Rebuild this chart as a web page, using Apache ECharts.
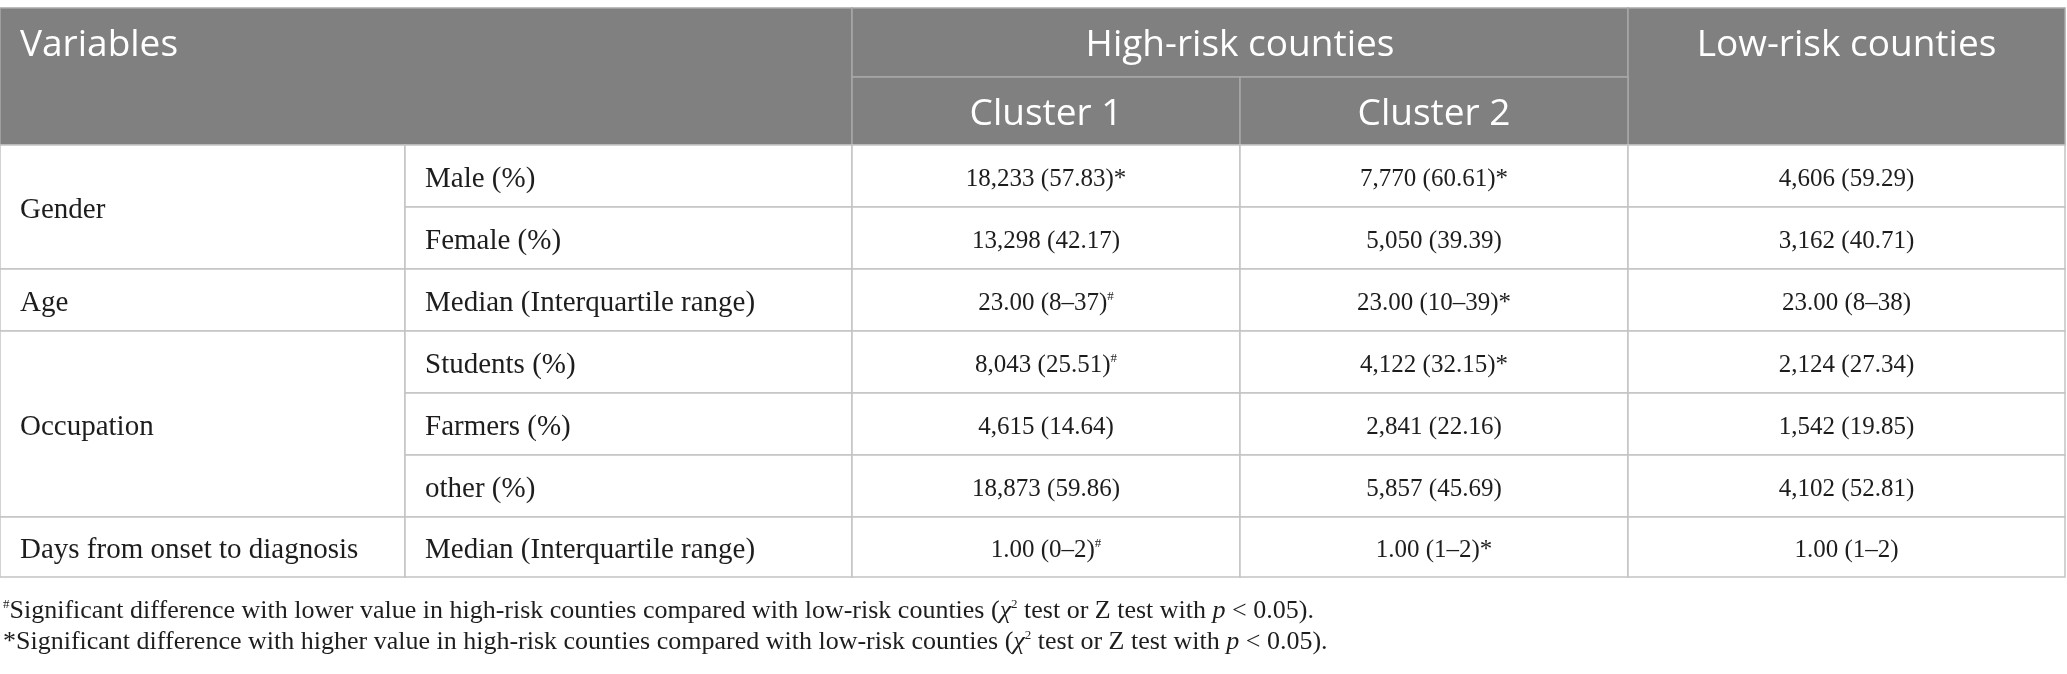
<!DOCTYPE html>
<html>
<head>
<meta charset="UTF-8">
<title>High-risk and low-risk counties</title>
<script src="https://cdn.jsdelivr.net/npm/echarts@6/dist/echarts.min.js"></script>
<style>
html,body{margin:0;padding:0;background:#fff;}
#main{width:2067px;height:674px;}
</style>
</head>
<body>
<div id="main"></div>
<script type="text/javascript">
	// 表格内容
	var headTop = ['Variables', 'High-risk counties', 'Low-risk counties'];
	var headSub = ['Cluster 1', 'Cluster 2'];
	var groups = ['Gender', 'Age', 'Occupation', 'Days from onset to diagnosis'];
	var groupRows = [2, 1, 3, 1];
	var items = ['Male (%)', 'Female (%)', 'Median (Interquartile range)', 'Students (%)', 'Farmers (%)', 'other (%)', 'Median (Interquartile range)'];
	var cluster1 = ['18,233 (57.83)', '13,298 (42.17)', '23.00 (8–37)', '8,043 (25.51)', '4,615 (14.64)', '18,873 (59.86)', '1.00 (0–2)'];
	var cluster1Sig = ['*', '', '#', '#', '', '', '#'];
	var cluster2 = ['7,770 (60.61)', '5,050 (39.39)', '23.00 (10–39)', '4,122 (32.15)', '2,841 (22.16)', '5,857 (45.69)', '1.00 (1–2)'];
	var cluster2Sig = ['*', '', '*', '*', '', '', '*'];
	var lowRisk = ['4,606 (59.29)', '3,162 (40.71)', '23.00 (8–38)', '2,124 (27.34)', '1,542 (19.85)', '4,102 (52.81)', '1.00 (1–2)'];
	var notes = [
		'{sup|#}Significant difference with lower value in high-risk counties compared with low-risk counties ({it|χ}{sup|2} test or Z test with {it|p} < 0.05).',
		'*Significant difference with higher value in high-risk counties compared with low-risk counties ({it|χ}{sup|2} test or Z test with {it|p} < 0.05).'
	];

	// 版面：列边界、行边界
	var colX = [0, 405, 852, 1240, 1628, 2065];
	var rowY = [8, 77, 145, 207, 269, 331, 393, 455, 517, 577];
	var noteY = [611, 642];

	function sigText(v, s) {
		return s == '#' ? v + '{sup|#}' : v + s;
	}

	var cells = [];
	// 表头
	cells.push({x0: colX[0], x1: colX[2], y0: rowY[0], y1: rowY[2], ty: (rowY[0] + rowY[1]) / 2, text: headTop[0], kind: 'head', align: 'left'});
	cells.push({x0: colX[2], x1: colX[4], y0: rowY[0], y1: rowY[1], text: headTop[1], kind: 'head'});
	cells.push({x0: colX[4], x1: colX[5], y0: rowY[0], y1: rowY[2], ty: (rowY[0] + rowY[1]) / 2, text: headTop[2], kind: 'head'});
	cells.push({x0: colX[2], x1: colX[3], y0: rowY[1], y1: rowY[2], text: headSub[0], kind: 'head'});
	cells.push({x0: colX[3], x1: colX[4], y0: rowY[1], y1: rowY[2], text: headSub[1], kind: 'head'});
	// 分组
	var r = 0;
	for (var g = 0; g < groups.length; g++) {
		cells.push({x0: colX[0], x1: colX[1], y0: rowY[2 + r], y1: rowY[2 + r + groupRows[g]], text: groups[g], kind: 'label', align: 'left'});
		r += groupRows[g];
	}
	// 明细
	for (var i = 0; i < items.length; i++) {
		var y0 = rowY[2 + i], y1 = rowY[3 + i];
		cells.push({x0: colX[1], x1: colX[2], y0: y0, y1: y1, text: items[i], kind: 'label', align: 'left'});
		cells.push({x0: colX[2], x1: colX[3], y0: y0, y1: y1, text: sigText(cluster1[i], cluster1Sig[i]), kind: 'value'});
		cells.push({x0: colX[3], x1: colX[4], y0: y0, y1: y1, text: sigText(cluster2[i], cluster2Sig[i]), kind: 'value'});
		cells.push({x0: colX[4], x1: colX[5], y0: y0, y1: y1, text: lowRisk[i], kind: 'value'});
	}
	// 注释
	for (var n = 0; n < notes.length; n++) {
		cells.push({x0: 3, x1: colX[5], y0: noteY[n], y1: noteY[n], text: notes[n], kind: 'note', align: 'left'});
	}

	var serif = '"Liberation Serif", "DejaVu Serif", serif';
	var sans = '"Open Sans", "Noto Sans", sans-serif';
	var sizes = {head: 37, label: 29, value: 25, note: 26};

	function renderCell(params, api) {
		var c = cells[params.dataIndex];
		var p0 = api.coord([api.value(0), api.value(1)]);
		var p1 = api.coord([api.value(2), api.value(3)]);
		var children = [];
		var head = c.kind == 'head';
		if (c.kind != 'note') {
			children.push({
				type: 'rect',
				shape: {x: p0[0], y: p0[1], width: p1[0] - p0[0], height: p1[1] - p0[1]},
				style: {fill: head ? '#808080' : '#ffffff', stroke: head ? '#a8a8a8' : '#c4c4c4', lineWidth: 1.5}
			});
		}
		var ty = c.ty != null ? api.coord([0, c.ty])[1] : (p0[1] + p1[1]) / 2;
		var tx = c.align == 'left' ? p0[0] + (c.kind == 'note' ? 0 : 20) : (p0[0] + p1[0]) / 2;
		var fs = sizes[c.kind];
		children.push({
			type: 'text',
			x: tx,
			y: ty + (c.kind == 'note' ? 0 : 3),
			style: {
				text: c.text,
				align: c.align || 'center',
				verticalAlign: 'middle',
				fontFamily: head ? sans : serif,
				fontSize: fs,
				fill: head ? '#ffffff' : '#1f1c1d',
				rich: {
					sup: {fontFamily: serif, fontSize: 13, verticalAlign: 'top', fill: '#1f1c1d'},
					it: {fontFamily: serif, fontSize: fs, fontStyle: 'italic', fill: '#1f1c1d'}
				}
			}
		});
		return {type: 'group', children: children};
	}

	var chart = echarts.init(document.getElementById('main'));
	var option = {
		animation: false,
		grid: {left: 0, right: 0, top: 0, bottom: 0},
		xAxis: {type: 'value', min: 0, max: 2067, show: false},
		yAxis: {type: 'value', min: 0, max: 674, inverse: true, show: false},
		series: [{
			type: 'custom',
			clip: false,
			silent: true,
			renderItem: renderCell,
			data: cells.map(function (c) { return [c.x0, c.y0, c.x1, c.y1]; })
		}]
	};
	chart.setOption(option);
</script>
</body>
</html>
